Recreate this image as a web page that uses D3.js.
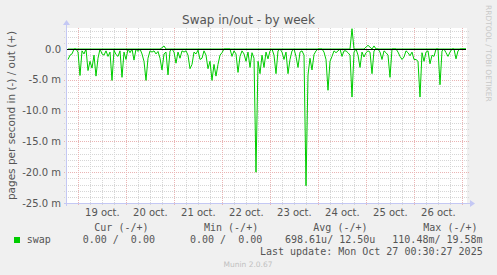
<!DOCTYPE html>
<html><head><meta charset="utf-8">
<script src="https://cdn.jsdelivr.net/npm/d3@7"></script>
<style>
html,body{margin:0;padding:0;background:#f0f0f0;}
svg{display:block;}
text{font-family:"DejaVu Sans",sans-serif;}
.mono{font-family:"DejaVu Sans Mono",monospace;font-size:10px;fill:#555;white-space:pre;}
</style></head>
<body>
<script>
// ---- data (values in milli-pages/second) ----
const dataStart = "2025-10-18T18:20:00Z";
const stepHours = 1;
// swap in (plotted negative)
const swapIn = [
1.7,1.0,0.8,0,0,0.5,4.3,0.3,0.8,0,
3.5,2.0,3.1,1.0,4.4,1.5,0,0.8,1.0,0.3,
1.2,0.5,5.1,0.2,0.9,1.2,0.3,4.6,0.5,1.7,
0,0.6,0,1.8,0,0.4,0,0.8,2.0,5.1,
1.5,0.3,0.5,0.3,0.8,0.4,1.5,3.4,0.8,0.5,
4.2,0.3,0,0.5,2.3,0.5,1.5,0.3,0.5,0.3,
1.0,3.2,2.5,0.5,0.8,0.2,1.7,1.5,0.3,1.0,
3.2,2.0,5.1,2.5,4.4,2.5,1.0,0.6,0,0,
0,0,1.2,0.3,0.8,3.8,1.2,0.3,0.8,2.0,
0.5,3.0,0.6,1.5,20.0,2.0,4.0,1.0,3.0,0.5,
1.6,0.3,0,1.0,4.0,0.3,0,0.5,1.7,0.5,
4.0,1.7,0.3,0,1.2,3.0,0.5,0.3,1.0,22.2,
4.2,1.5,3.4,0.9,0.3,0,0,0,0.5,1.7,
6.7,2.0,1.2,0.3,0.6,0.3,0,1.2,0.3,0.3,
0.6,1.0,7.8,0.5,0,1.0,3.0,0.5,1.3,0.6,
0.3,0.5,4.0,0.3,0,0,0.5,1.7,0.3,0.6,
1.0,4.6,0,0,0,0.5,1.2,1.7,1.3,0.3,
0.6,1.1,0.5,1.7,1.7,2.0,7.8,0.6,2.0,0.5,
0.3,2.4,1.0,1.2,0,0,5.8,0.3,0,0.6,
1.2,0.5,0,0,1.6,0.3,0,0,0,0
];
// swap out (plotted positive)
const swapOut = [
0,0,0,0,0,0,0,0,0,0,
0,0,0,0,0,0,0,0,0,0,
0,0,0,0,0,0,0,0,0,0,
0,0,0,0,0,0,0,0,0,0,
0,0,0,0,0,0,0,0.2,0.5,0,
0,0,0,0,0,0,0,0,0,0,
0,0,0,0,0,0,0,0,0,0,
0,0,0,0,0,0,0,0,0,0,
0,0,0,0,0,0,0,0,0,0,
0,0,0,0,0,0,0,0,0,0,
0,0,0,0,0,0,0,0,0,0,
0,0,0,0,0,0,0,0,0,0,
0,0,0,0,0,0,0,0,0,0,
0,0,0,0,0,0,0,0,0,0,
0,0,3.3,0,0,0,0,0,0,0.3,
0.6,0.3,0,0.5,0,0,0,0,0,0,
0,0,0,0,0,0,0,0,0,0,
0,0,0,0,0,0,0,0,0,0,
0,0,0,0,0,0,0,0,0,0,
0,0,0,0,0,0,0,0,0,0
];
const dayTicks = ["2025-10-19","2025-10-20","2025-10-21","2025-10-22","2025-10-23","2025-10-24","2025-10-25","2025-10-26","2025-10-27"];
const dayLabels = ["19 oct.","20 oct.","21 oct.","22 oct.","23 oct.","24 oct.","25 oct.","26 oct."];
const yTicks = [0,-5,-10,-15,-20,-25];
const yTickLabels = ["0.0","-5.0 m","-10.0 m","-15.0 m","-20.0 m","-25.0 m"];
const yDomain = [-25, 3.41];
const legendHeaders = ["Cur (-/+)","Min (-/+)","Avg (-/+)","Max (-/+)"];
const legendValues = ["0.00 /  0.00","0.00 /  0.00","698.61u/ 12.50u","110.48m/ 19.58m"];
const seriesName = "swap";
const title = "Swap in/out - by week";
const yLabel = "pages per second in (-) / out (+)";
const lastUpdate = "Last update: Mon Oct 27 00:30:27 2025";
const footer = "Munin 2.0.67";
const sideText = "RRDTOOL / TOBI OETIKER";

// ---- layout ----
const W = 497, H = 275;
const L = 67, R = 467, T = 28, B = 203;
const t0 = new Date(dataStart);
const t1 = new Date(t0.getTime() + 200 * 3600e3);

const svg = d3.select("body").append("svg").attr("width", W).attr("height", H);
svg.append("rect").attr("width", W).attr("height", H).attr("fill", "#f0f0f0");
svg.append("rect").attr("x", L).attr("y", T).attr("width", R - L).attr("height", B - T).attr("fill", "#ffffff");

const x = d3.scaleUtc().domain([t0, t1]).range([L, R]);
const y = d3.scaleLinear().domain(yDomain).range([B, T]);

const minorCol = "#d6d6d6", majorCol = "#eab4b4";
const grid = svg.append("g").attr("shape-rendering", "crispEdges");
// horizontal grid
d3.range(-25, 4).forEach(v => {
  const major = v % 5 === 0;
  if (v === 0) return;
  grid.append("line").attr("x1", L - 3).attr("x2", R + 2)
    .attr("y1", Math.round(y(v)) + 0.5).attr("y2", Math.round(y(v)) + 0.5)
    .attr("stroke", major ? majorCol : minorCol).attr("stroke-dasharray", "1,1");
});
// vertical grid (6h minor, midnight major)
const sixH = d3.utcHour.every(6).range(t0, t1);
sixH.forEach(d => {
  const major = d.getUTCHours() === 0;
  const xx = Math.round(x(d)) + 0.5;
  grid.append("line").attr("x1", xx).attr("x2", xx).attr("y1", T).attr("y2", B + 3)
    .attr("stroke", major ? majorCol : minorCol).attr("stroke-dasharray", "1,1");
});

// axes lines with arrows
const axisCol = "#c4c8f4";
svg.append("line").attr("x1", L - 3).attr("x2", R + 4).attr("y1", B + 0.5).attr("y2", B + 0.5)
  .attr("stroke", axisCol).attr("shape-rendering", "crispEdges");
svg.append("path").attr("d", `M${R + 3},${B - 3} L${R + 8},${B + 0.5} L${R + 3},${B + 4} Z`).attr("fill", axisCol);
svg.append("line").attr("x1", L - 0.5).attr("x2", L - 0.5).attr("y1", B + 3).attr("y2", T - 4)
  .attr("stroke", axisCol).attr("shape-rendering", "crispEdges");
svg.append("path").attr("d", `M${L - 4},${T - 3} L${L - 0.5},${T - 8} L${L + 3},${T - 3} Z`).attr("fill", axisCol);

// data lines
const pts = swapIn.map((v, i) => ({ t: new Date(t0.getTime() + (i * stepHours + 0.5) * 3600e3), inn: v, out: swapOut[i] }));
const lineIn = d3.line().x(d => x(d.t)).y(d => y(-d.inn));
const lineOut = d3.line().x(d => x(d.t)).y(d => y(d.out));
svg.append("path").datum(pts).attr("d", lineIn).attr("fill", "none").attr("stroke", "#00cc00").attr("stroke-width", 1);
svg.append("path").datum(pts).attr("d", lineOut).attr("fill", "none").attr("stroke", "#00cc00").attr("stroke-width", 1);

// zero line
svg.append("line").attr("x1", L).attr("x2", R - 1).attr("y1", Math.round(y(0)) + 0.5).attr("y2", Math.round(y(0)) + 0.5)
  .attr("stroke", "#000").attr("stroke-width", 1).attr("shape-rendering", "crispEdges");

// y tick labels
const tc = "#555555";
svg.append("g").selectAll("text").data(yTicks).join("text")
  .attr("x", 61).attr("y", d => y(d) + 3.5).attr("text-anchor", "end")
  .attr("font-size", 10).attr("fill", tc).text((d, i) => yTickLabels[i]);

// x labels at noon
svg.append("g").selectAll("text").data(dayLabels).join("text")
  .attr("x", (d, i) => x(new Date(dayTicks[i] + "T12:00:00Z")))
  .attr("y", 216).attr("text-anchor", "middle").attr("font-size", 10).attr("fill", tc).text(d => d);

// title
svg.append("text").attr("x", 248.5).attr("y", 24).attr("text-anchor", "middle")
  .attr("font-size", 12).attr("fill", "#555").text(title);
// y label
svg.append("text").attr("transform", `translate(15,${(T + B) / 2}) rotate(-90)`)
  .attr("text-anchor", "middle").attr("font-size", 10.5).attr("fill", tc).text(yLabel);
// side text
svg.append("text").attr("transform", `translate(486,5) rotate(90)`)
  .attr("text-anchor", "start").attr("font-size", 7.5).attr("fill", "#c8c8c8").text(sideText);

// legend
const headerX = [94.3, 204, 313.3, 423.3];
svg.append("g").selectAll("text").data(legendHeaders).join("text")
  .attr("class", "mono").attr("x", (d, i) => headerX[i]).attr("y", 231).text(d => d);
svg.append("rect").attr("x", 14).attr("y", 237).attr("width", 6).attr("height", 6).attr("fill", "#00cc00");
svg.append("text").attr("class", "mono").attr("x", 26.7).attr("y", 243).text(seriesName);
const valX = [82.7, 190, 285, 392.3];
svg.append("g").selectAll("text").data(legendValues).join("text")
  .attr("class", "mono").attr("x", (d, i) => valX[i]).attr("y", 243).text(d => d);
svg.append("text").attr("class", "mono").attr("x", 482.7).attr("y", 255).attr("text-anchor", "end").text(lastUpdate);
svg.append("text").attr("x", 248).attr("y", 267).attr("text-anchor", "middle")
  .attr("font-size", 7.5).attr("fill", "#c0c0c0").text(footer);
</script>
</body></html>
